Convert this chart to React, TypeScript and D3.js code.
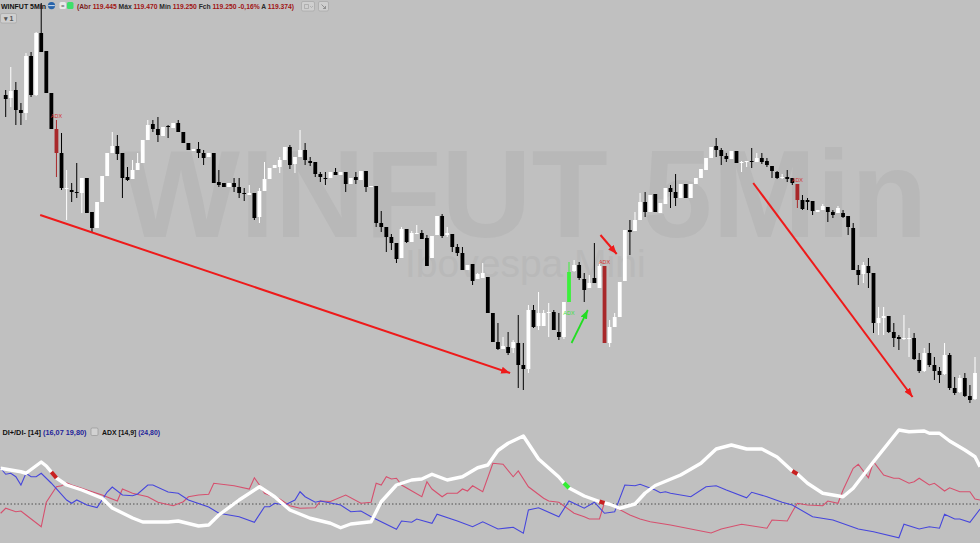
import React from 'react';
import * as d3 from 'd3';

// OHLC, one entry per 5 minute bar (WINFUT, points)
const open = [
  120675, 120660, 120700, 120600, 120585, 120870, 120675, 120985, 120895, 120685,
  120505, 120385, 120205, 120200, 120190, 120185, 120260, 120090, 120010, 120140,
  120270, 120385, 120420, 120385, 120265, 120255, 120300, 120335, 120450, 120530,
  120505, 120470, 120520, 120510, 120535, 120490, 120435, 120395, 120405, 120385,
  120365, 120385, 120240, 120235, 120215, 120235, 120215, 120185, 120175, 120185,
  120065, 120195, 120255, 120310, 120315, 120350, 120415, 120330, 120365, 120400,
  120345, 120340, 120280, 120260, 120260, 120290, 120275, 120290, 120230, 120265,
  120250, 120295, 120215, 120220, 120035, 120015, 119965, 119935, 119860, 120005,
  119940, 119980, 119985, 119960, 119860, 119975, 120070, 119975, 119980, 119915,
  119885, 119800, 119830, 119755, 119760, 119765, 119585, 119440, 119405, 119415,
  119410, 119435, 119325, 119305, 119600, 119520, 119520, 119585, 119590, 119490,
  119465, 119640, 119795, 119825, 119755, 119710, 119760, 119710, 119820, 119435,
  119515, 119565, 119745, 120000, 119995, 120050, 120140, 120090, 120180, 120085,
  120130, 120210, 120190, 120160, 120230, 120160, 120230, 120260, 120300, 120360,
  120420, 120400, 120370, 120355, 120395, 120335, 120340, 120345, 120340, 120360,
  120345, 120320, 120290, 120260, 120265, 120260, 120230, 120150, 120150, 120145,
  120090, 120100, 120115, 120090, 120085, 120085, 120070, 120010, 119800, 119780,
  119820, 119785, 119535, 119560, 119570, 119490, 119465, 119455, 119455, 119460,
  119350, 119295, 119385, 119325, 119295, 119280, 119375, 119210, 119190, 119260,
  119170, 119155,
];
const high = [
  120700, 120815, 120740, 120635, 120885, 120890, 120990, 121135, 120895, 120685,
  120550, 120485, 120300, 120235, 120335, 120260, 120260, 120090, 120140, 120270,
  120385, 120490, 120475, 120385, 120315, 120350, 120385, 120450, 120550, 120550,
  120565, 120515, 120525, 120535, 120550, 120490, 120435, 120405, 120440, 120400,
  120385, 120385, 120300, 120235, 120235, 120260, 120260, 120210, 120225, 120185,
  120210, 120340, 120310, 120325, 120365, 120415, 120425, 120365, 120500, 120435,
  120365, 120340, 120290, 120290, 120290, 120310, 120290, 120290, 120260, 120290,
  120295, 120295, 120220, 120220, 120095, 120015, 119980, 119935, 120015, 120005,
  119995, 120025, 120000, 119975, 119970, 120070, 120080, 120015, 119980, 119930,
  119915, 119825, 119830, 119785, 119835, 119765, 119585, 119535, 119465, 119490,
  119450, 119575, 119435, 119625, 119625, 119690, 119600, 119635, 119600, 119585,
  119640, 119840, 119850, 119840, 119785, 119775, 119935, 119840, 119820, 119550,
  119585, 119740, 120000, 120050, 120090, 120185, 120190, 120175, 120180, 120135,
  120210, 120225, 120280, 120230, 120230, 120230, 120260, 120305, 120360, 120415,
  120460, 120410, 120385, 120395, 120395, 120345, 120345, 120410, 120385, 120385,
  120360, 120320, 120295, 120280, 120300, 120260, 120230, 120175, 120160, 120145,
  120100, 120130, 120115, 120100, 120120, 120100, 120070, 120035, 119825, 119840,
  119860, 119785, 119615, 119615, 119570, 119535, 119475, 119575, 119510, 119485,
  119385, 119410, 119435, 119365, 119315, 119435, 119385, 119265, 119275, 119285,
  119225, 119365,
];
const low = [
  120565, 120615, 120525, 120525, 120550, 120665, 120670, 120890, 120685, 120505,
  120265, 120200, 120050, 120140, 120160, 120085, 120085, 119990, 120010, 120140,
  120270, 120385, 120350, 120160, 120245, 120255, 120300, 120335, 120450, 120490,
  120440, 120470, 120460, 120510, 120490, 120435, 120400, 120395, 120360, 120325,
  120365, 120235, 120215, 120215, 120215, 120190, 120160, 120145, 120175, 120050,
  120035, 120195, 120255, 120310, 120285, 120350, 120305, 120285, 120365, 120325,
  120320, 120265, 120240, 120225, 120260, 120275, 120275, 120190, 120230, 120230,
  120250, 120190, 120215, 120015, 119990, 119890, 119900, 119835, 119860, 119935,
  119940, 119980, 119955, 119820, 119860, 119975, 119960, 119965, 119890, 119870,
  119800, 119800, 119725, 119755, 119760, 119585, 119440, 119400, 119405, 119375,
  119385, 119210, 119200, 119285, 119510, 119500, 119520, 119465, 119500, 119450,
  119455, 119640, 119790, 119750, 119640, 119710, 119735, 119710, 119435, 119415,
  119515, 119565, 119745, 119875, 119995, 120050, 120065, 120090, 120090, 120085,
  120130, 120110, 120120, 120160, 120160, 120160, 120230, 120260, 120300, 120360,
  120365, 120325, 120340, 120355, 120335, 120290, 120315, 120310, 120340, 120330,
  120315, 120260, 120255, 120255, 120240, 120225, 120110, 120100, 120100, 120075,
  120090, 120100, 120040, 120060, 120085, 120060, 119975, 119800, 119725, 119735,
  119710, 119485, 119475, 119475, 119485, 119415, 119400, 119450, 119365, 119350,
  119285, 119290, 119315, 119250, 119235, 119275, 119200, 119175, 119185, 119165,
  119135, 119150,
];
const close = [
  120655, 120695, 120600, 120585, 120870, 120675, 120985, 120890, 120685, 120505,
  120385, 120210, 120210, 120190, 120185, 120260, 120085, 120010, 120140, 120270,
  120385, 120420, 120380, 120260, 120250, 120300, 120335, 120450, 120525, 120505,
  120475, 120515, 120515, 120535, 120490, 120435, 120400, 120405, 120385, 120360,
  120385, 120235, 120225, 120215, 120235, 120215, 120185, 120180, 120185, 120060,
  120195, 120255, 120310, 120325, 120350, 120415, 120325, 120365, 120400, 120350,
  120335, 120280, 120265, 120255, 120290, 120275, 120290, 120230, 120260, 120250,
  120295, 120215, 120220, 120035, 120015, 119965, 119935, 119855, 120005, 119940,
  119985, 119985, 119955, 119820, 119970, 120070, 119970, 119985, 119915, 119885,
  119800, 119825, 119745, 119780, 119785, 119585, 119440, 119405, 119420, 119385,
  119440, 119325, 119305, 119600, 119515, 119585, 119585, 119590, 119500, 119465,
  119640, 119790, 119825, 119760, 119700, 119735, 119735, 119820, 119435, 119515,
  119565, 119740, 120000, 119990, 120050, 120140, 120090, 120175, 120090, 120135,
  120210, 120190, 120160, 120230, 120160, 120230, 120260, 120305, 120360, 120415,
  120400, 120370, 120355, 120395, 120335, 120340, 120345, 120340, 120360, 120340,
  120325, 120295, 120260, 120265, 120255, 120235, 120150, 120105, 120140, 120095,
  120100, 120120, 120090, 120075, 120110, 120065, 120015, 119800, 119775, 119825,
  119785, 119535, 119560, 119570, 119490, 119460, 119455, 119460, 119460, 119355,
  119295, 119385, 119325, 119295, 119275, 119375, 119210, 119185, 119260, 119170,
  119150, 119285,
];

// bars painted by the ADX signal
const redBars = [10, 118, 156];
const greenBars = [111];

// indicator vertices: [bar index, value]
const adx: [number, number][] = [
  [-1, 34.3], [3, 32.9], [4, 32.3], [7, 36.8], [8, 35.2], [9, 32.8], [10, 30.4], [12, 27.6],
  [15, 25.6], [19, 22.3], [21, 18.4], [25, 14.4], [27, 12.8], [32, 12.8], [34, 13.2], [38, 11.2],
  [40, 11.6], [42, 15.6], [46, 21.6], [50, 26.9], [53, 22.9], [56, 17.6], [60, 14.3], [64, 12.3],
  [66, 10.5], [68, 12], [72, 12.9], [74, 20.9], [77, 27.6], [80, 29.6], [82, 30], [84, 31.9],
  [87, 29.6], [90, 30.9], [93, 34.5], [95, 35.6], [97, 41.4], [99, 44.3], [102, 47.2], [105, 38],
  [109, 30.8], [110, 28.4], [111, 26.4], [114, 23.2], [117, 21], [118, 20.4], [119, 19.9], [121, 18.3],
  [124, 20], [126, 24.4], [128, 27.4], [133, 31.6], [137, 36.3], [140, 42], [143, 43.6], [146, 42],
  [149, 42], [152, 38.8], [155, 33.2], [156, 32], [158, 28.3], [161, 24.3], [165, 22.9], [167, 26.3],
  [171, 36.9], [176, 49.6], [178, 48.9], [181, 49.2], [182, 48.3], [184, 48.3], [186, 45.2], [189, 41.6],
  [191, 38.9], [192, 34.9],
];
const diPlus: [number, number][] = [
  [-1, 34.3], [0, 31.9], [1, 32.3], [2, 30.9], [3, 27.6], [4, 32.3], [5, 30.9], [6, 30.9], [7, 32.3],
  [9, 28.3], [12, 21.6], [13, 20.3], [14, 21.6], [16, 19.6], [18, 18.6], [20, 24.8], [21, 26.8],
  [23, 23.6], [25, 23.3], [26, 24], [28, 27.6], [29, 27.6], [32, 24.8], [34, 24.3], [36, 21.6],
  [40, 18.8], [42, 16.3], [46, 14.9], [49, 12.7], [51, 18.9], [52, 18.9], [53, 20.3], [55, 19.6],
  [57, 21.6], [58, 24.9], [59, 22.9], [61, 20.7], [62, 21.2], [66, 19.6], [68, 16.9], [70, 17.2],
  [72, 14.9], [77, 9.9], [78, 13.2], [80, 12.7], [81, 14], [84, 12.3], [85, 15.9], [89, 13.2],
  [92, 10.9], [94, 12.9], [97, 10], [100, 10.7], [102, 8.3], [103, 17.6], [105, 18.5], [109, 14.9],
  [111, 21.2], [114, 18.3], [116, 20.7], [118, 16.3], [120, 16.9], [122, 27.6], [124, 27.3], [125, 27.9],
  [128, 25.6], [129, 24.5], [130, 24.9], [131, 24.3], [135, 22.9], [138, 26.9], [140, 27.3], [142, 25.6],
  [146, 22.5], [147, 24.7], [150, 22.9], [153, 20.7], [155, 19.6], [159, 14.9], [163, 13.6], [168, 10],
  [171, 8.9], [176, 6.5], [177, 11.9], [180, 10], [182, 10.9], [184, 10.3], [185, 15.9], [187, 14],
  [188, 14], [190, 12.7], [192, 18],
];
const diMinus: [number, number][] = [
  [-1, 16.3], [0, 18.3], [2, 16.9], [3, 17.2], [4, 15.6], [7, 10.9], [8, 20.7], [10, 26.9], [11, 27.3],
  [12, 28.5], [13, 27.6], [15, 26.3], [16, 25.6], [19, 23.6], [22, 21.2], [23, 26], [25, 24.3], [28, 22.9],
  [30, 20.7], [33, 19.3], [35, 20.9], [36, 22.9], [38, 23.6], [40, 23.9], [41, 28.3], [45, 27.3], [48, 26],
  [49, 30.5], [50, 27.6], [51, 24.3], [54, 22], [56, 19.3], [58, 18.3], [61, 18.5], [62, 21.2], [64, 21],
  [67, 23.6], [70, 20.3], [72, 20.7], [73, 28.3], [74, 27.6], [75, 30.9], [76, 30], [77, 30.3], [78, 27.6],
  [82, 22.9], [83, 28.9], [84, 26], [86, 22.9], [87, 24.3], [89, 24.3], [90, 26], [91, 25.2], [92, 27.3],
  [94, 24.9], [96, 36.3], [98, 35.9], [100, 30.9], [101, 33.2], [103, 26.9], [106, 22.3], [107, 21.2],
  [109, 20.7], [112, 16.3], [114, 14.9], [115, 14], [117, 14], [118, 20.7], [119, 19.9], [123, 15.6],
  [125, 14], [127, 12.9], [131, 11.6], [139, 8.4], [141, 10], [145, 11.9], [150, 10.3], [151, 13.6],
  [154, 13.2], [155, 16.9], [156, 20.3], [158, 19.6], [161, 19.3], [162, 21.2], [164, 20.3], [165, 25.6],
  [167, 34.3], [168, 35.9], [170, 30.5], [171, 36.9], [173, 31.6], [175, 30.3], [176, 30.3], [178, 28.3],
  [179, 28.9], [180, 30.3], [182, 27.6], [183, 28.3], [185, 25.2], [186, 26.5], [188, 24.9], [190, 24.9],
  [191, 22], [192, 21.6],
];
const refLevel = 20;

// hand drawn arrows, in [bar index, price]
const arrows = [
  { from: [6.8, 120075], to: [99.4, 119285], color: '#ee1a1a' },
  { from: [117.2, 119975], to: [120.4, 119880], color: '#ee1a1a' },
  { from: [111.5, 119435], to: [114.7, 119600], color: '#22dd22' },
  { from: [147.3, 120235], to: [178.7, 119165], color: '#ee1a1a' },
];

const header = [
  ['(Abr ', '119.445'], [' Máx ', '119.470'], [' Mín ', '119.250'], [' Fch ', '119.250'],
  [' ', '-0,16%'], [' A ', '119.374'],
];

const W = 980;
const H = 543;
const font = '"Liberation Sans", Arial, sans-serif';

export default function App() {
  const x = d3.scaleLinear().domain([0, 191]).range([5.7, 975]);
  const y = d3.scaleLinear().domain([119150, 121150]).range([400, 0]);
  const yi = d3.scaleLinear().domain([0, 50]).range([554, 429]);
  const bw = 3.8;

  const line = d3
    .line<[number, number]>()
    .x((d) => x(d[0]))
    .y((d) => yi(d[1]));

  const barColor = (i: number) => {
    if (redBars.includes(i)) return '#a8282a';
    if (greenBars.includes(i)) return '#3cf03c';
    return close[i] >= open[i] ? '#ffffff' : '#000000';
  };

  const adxAt = (i: number) => adx.find((d) => d[0] === i)!;

  return (
    <div style={{ position: 'absolute', left: 0, top: 0 }}>
      <svg width={W} height={H} style={{ display: 'block', fontFamily: font }}>
        <defs>
          {arrows.map((a, k) => (
            <marker
              key={k}
              id={`head${k}`}
              markerUnits="userSpaceOnUse"
              markerWidth={10}
              markerHeight={8}
              refX={9}
              refY={4}
              orient="auto"
            >
              <path d="M0,0.5 L9,4 L0,7.5 z" fill={a.color} />
            </marker>
          ))}
        </defs>
        <rect width={W} height={H} fill="#c0c0c0" />

        {/* watermark */}
        <text x={122} y={237} fontSize={125} fontWeight="bold" fill="#b8b8b8">
          WINFUT 5Min
        </text>
        <text x={405} y={277} fontSize={39} fill="#b9b9b9">
          Ibovespa Mini
        </text>

        {/* candles */}
        {open.map((o, i) => {
          const c = close[i];
          const col = barColor(i);
          const top = y(Math.max(o, c));
          const bot = y(Math.min(o, c));
          return (
            <g key={i}>
              <line x1={x(i)} x2={x(i)} y1={y(high[i])} y2={y(low[i])} stroke={col} strokeWidth={1} />
              <rect x={x(i) - bw / 2} y={top} width={bw} height={Math.max(1, bot - top)} fill={col} />
            </g>
          );
        })}
        {redBars.map((i) => (
          <text key={i} x={x(i)} y={y(high[i]) - 2.5} fontSize={5.5} textAnchor="middle" fill="#d43030">
            ADX
          </text>
        ))}
        {greenBars.map((i) => (
          <text key={i} x={x(i)} y={y(low[i]) + 13} fontSize={5.5} textAnchor="middle" fill="#3ce03c">
            ADX
          </text>
        ))}

        {arrows.map((a, k) => (
          <line
            key={k}
            x1={x(a.from[0])}
            y1={y(a.from[1])}
            x2={x(a.to[0])}
            y2={y(a.to[1])}
            stroke={a.color}
            strokeWidth={k === 2 ? 1.8 : 2}
            markerEnd={`url(#head${k})`}
          />
        ))}

        {/* header */}
        <text x={1} y={8.6} fontSize={7.5} fontWeight="bold" fill="#111" textLength={45} lengthAdjust="spacingAndGlyphs">
          WINFUT 5Min
        </text>
        <circle cx={51.5} cy={5.6} r={3.6} fill="#2864aa" />
        <line x1={48.2} x2={54.8} y1={5.6} y2={5.6} stroke="#ffffff" strokeWidth={0.8} />
        <rect x={59.5} y={2} width={6.5} height={7} rx={1.5} fill="#e8e8e8" />
        <text x={62.75} y={8} fontSize={6} textAnchor="middle" fill="#555">=</text>
        <rect x={67} y={2} width={6.5} height={7} rx={1.5} fill="#3de06a" />
        <text x={77} y={8.6} fontSize={7.5} fontWeight="bold" textLength={217} lengthAdjust="spacingAndGlyphs">
          {header.map(([label, value], k) => (
            <React.Fragment key={k}>
              <tspan fill={k === 0 ? '#7a1c1c' : '#2a2a2a'}>{label}</tspan>
              <tspan fill="#a01414">{value}</tspan>
            </React.Fragment>
          ))}
          <tspan fill="#a01414">)</tspan>
        </text>
        <rect x={301.5} y={1.5} width={13} height={9.5} rx={1.5} fill="#cfcfcf" stroke="#a6a6a6" strokeWidth={0.7} />
        <path d="M304.5,4.5 h4 v4 h-4 z M310,6 l1.5,1.5 l1.5,-1.5" fill="none" stroke="#9a9a9a" strokeWidth={0.6} />
        <rect x={318.5} y={1.5} width={10} height={9.5} rx={1.5} fill="#cfcfcf" stroke="#a6a6a6" strokeWidth={0.7} />
        <path d="M321.5,4.5 l4,4 M325.5,6 v2.5 h-2.5" fill="none" stroke="#777" strokeWidth={0.7} />
        <rect x={0.5} y={13.5} width={16} height={9.5} rx={1.5} fill="#cfcfcf" stroke="#a6a6a6" strokeWidth={0.7} />
        <text x={8.5} y={20.8} fontSize={7} fontWeight="bold" textAnchor="middle" fill="#555">▾ 1</text>

        {/* DI+/DI- and ADX panel */}
        <text x={2.5} y={435} fontSize={7.2} fontWeight="bold" fill="#111" textLength={84} lengthAdjust="spacingAndGlyphs">
          DI+/DI- [14] <tspan fill="#23239a">(16,07  19,80)</tspan>
        </text>
        <rect x={91} y={428} width={7} height={7.5} rx={1.2} fill="#d2d2d2" stroke="#8d8d8d" strokeWidth={0.6} />
        <text x={102} y={435} fontSize={7.2} fontWeight="bold" fill="#111" textLength={58} lengthAdjust="spacingAndGlyphs">
          ADX [14,9] <tspan fill="#23239a">(24,80)</tspan>
        </text>
        <line
          x1={0}
          x2={W}
          y1={yi(refLevel)}
          y2={yi(refLevel)}
          stroke="#333"
          strokeWidth={0.8}
          strokeDasharray="1.5,2"
        />
        <path d={line(diMinus) ?? ''} fill="none" stroke="#d6506e" strokeWidth={1.1} />
        <path d={line(diPlus) ?? ''} fill="none" stroke="#4646dc" strokeWidth={1.1} />
        <path d={line(adx) ?? ''} fill="none" stroke="#ffffff" strokeWidth={3.4} strokeLinejoin="round" />
        {[...redBars, ...greenBars].map((i) => (
          <path
            key={i}
            d={line([adxAt(i - 1), adxAt(i)]) ?? ''}
            stroke={redBars.includes(i) ? '#c82020' : '#33ee33'}
            strokeWidth={4}
            fill="none"
          />
        ))}
      </svg>
    </div>
  );
}
